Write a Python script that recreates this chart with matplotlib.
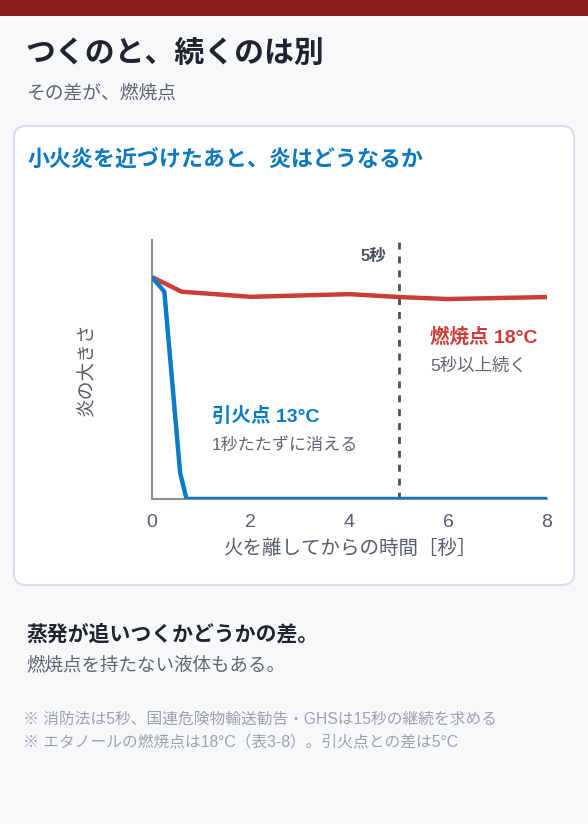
import matplotlib
matplotlib.use("Agg")
import matplotlib.pyplot as plt
from matplotlib.patches import FancyBboxPatch, Rectangle

plt.rcParams['font.family'] = ['Liberation Sans', 'Noto Sans CJK JP', 'DejaVu Sans']

# Data
combustion_t = [0, 0.6, 2, 4, 5, 6, 8]
combustion_y = [1.0, 0.934, 0.911, 0.923, 0.910, 0.901, 0.910]
flash_t = [0, 0.25, 0.57, 0.70, 8]
flash_y = [1.0, 0.934, 0.117, 0.0, 0.0]
xticks = [0, 2, 4, 6, 8]
marker_t = 5

W, H = 588, 824
fig = plt.figure(figsize=(W / 100, H / 100), dpi=100)
fig.patch.set_facecolor('#F7F8FA')

def px(x, y):
    return x / W, 1 - y / H

# top bar
fig.patches.append(Rectangle(px(0, 16), 1, 16 / H, transform=fig.transFigure,
                             facecolor='#8B1C1A', edgecolor='none', zorder=-2))
# card
x0, y0 = px(14, 585)
fig.patches.append(FancyBboxPatch((x0, y0), 560 / W, 459 / H,
                                  boxstyle="round,pad=0,rounding_size=0.02",
                                  transform=fig.transFigure, facecolor='white',
                                  edgecolor='#D8DFE7', linewidth=1.5, zorder=-2,
                                  mutation_aspect=W / H))

fig.text(*px(25, 54), 'つくのと、続くのは別', fontsize=21.5, fontweight='bold',
         color='#1E2530', va='center', ha='left')
fig.text(*px(26, 94), 'その差が、燃焼点', fontsize=13.5, color='#5E6673',
         va='center', ha='left')
fig.text(*px(28, 160), '小火炎を近づけたあと、炎はどうなるか', fontsize=15.8, fontweight='bold',
         color='#0B78C0', va='center', ha='left')

ax = fig.add_axes([152 / W, 1 - 499 / H, 395 / W, 259 / H])
ax.set_zorder(1)
ax.set_facecolor('none')
ax.plot(combustion_t, combustion_y, color='#CC3D36', lw=3.2, solid_capstyle='butt', zorder=3)
ax.plot(flash_t, flash_y, color='#0A7CC6', lw=3.2, solid_capstyle='butt', zorder=4)
ax.axvline(marker_t, color='#4A5260', lw=2, ls=(0, (2.5, 2.5)), zorder=2)
ax.set_xlim(0, 8)
ax.set_ylim(0, 1.167)
ax.set_xticks(xticks)
ax.set_xticklabels([str(v) for v in xticks])
ax.set_yticks([])
ax.tick_params(axis='x', length=0, pad=11, labelsize=14, labelcolor='#555E6B')
for s in ['top', 'right']:
    ax.spines[s].set_visible(False)
for s in ['left', 'bottom']:
    ax.spines[s].set_color('#8A9099')
    ax.spines[s].set_linewidth(1.5)
ax.set_xlabel('火を離してからの時間［秒］', fontsize=14, color='#555E6B', labelpad=6)
ax.set_ylabel('炎の大きさ', fontsize=13.5, color='#555E6B', labelpad=40)

fig.text(*px(386, 256), '5秒', fontsize=12, fontweight='bold', color='#4A5260',
         va='center', ha='right')
fig.text(*px(430, 337), '燃焼点 18°C', fontsize=14, fontweight='bold', color='#CC3D36',
         va='center', ha='left')
fig.text(*px(430, 366), '5秒以上続く', fontsize=12.5, color='#5E6673',
         va='center', ha='left')
fig.text(*px(212, 416), '引火点 13°C', fontsize=14, fontweight='bold', color='#0A7CC6',
         va='center', ha='left')
fig.text(*px(212, 445), '1秒たたずに消える', fontsize=12.3, color='#5E6673',
         va='center', ha='left')

fig.text(*px(26, 634), '蒸発が追いつくかどうかの差。', fontsize=15, fontweight='bold',
         color='#1E2530', va='center', ha='left')
fig.text(*px(26, 665), '燃焼点を持たない液体もある。', fontsize=13.3, color='#5E6673',
         va='center', ha='left')
fig.text(*px(23, 719), '※ 消防法は5秒、国連危険物輸送勧告・GHSは15秒の継続を求める',
         fontsize=11.3, color='#9AA3AE', va='center', ha='left')
fig.text(*px(23, 743), '※ エタノールの燃焼点は18°C（表3-8）。引火点との差は5°C',
         fontsize=11.3, color='#9AA3AE', va='center', ha='left')

fig.savefig('out.png', dpi=100, facecolor=fig.get_facecolor())
